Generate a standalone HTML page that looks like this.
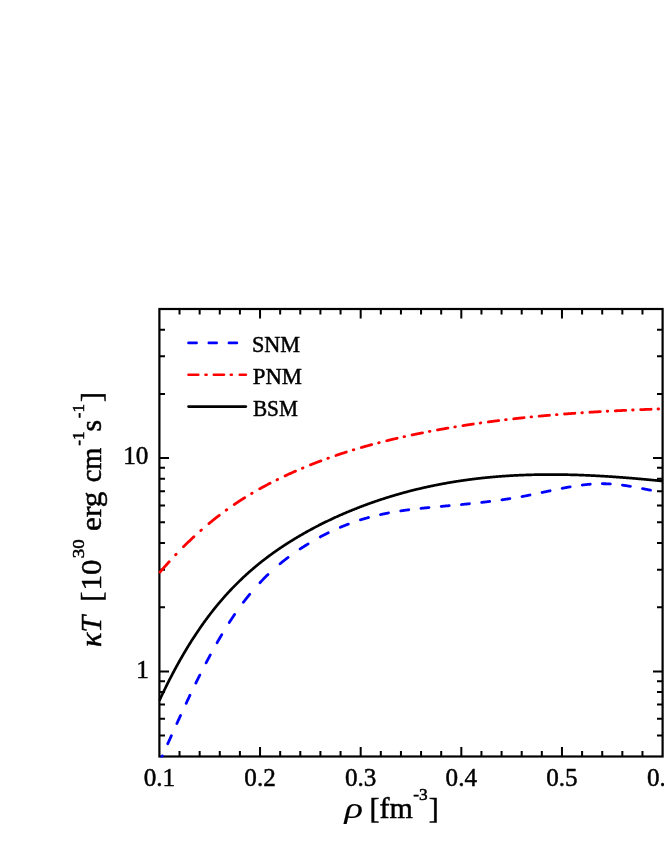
<!DOCTYPE html>
<html><head><meta charset="utf-8"><title>chart</title>
<style>html,body{margin:0;padding:0;background:#fff}svg{display:block;will-change:transform}text{font-family:"Liberation Serif",serif;fill:#000;stroke:#000;stroke-width:0.5px}</style></head>
<body>
<svg width="664" height="860" viewBox="0 0 664 860">
<rect width="664" height="860" fill="#fff"/>
<defs><clipPath id="c"><rect x="158.3" y="309.0" width="505.4" height="448.6"/></clipPath></defs>
<path d="M179.53 756.50v-5.60M179.53 309.00v5.60M199.66 756.50v-5.60M199.66 309.00v5.60M219.78 756.50v-5.60M219.78 309.00v5.60M239.91 756.50v-5.60M239.91 309.00v5.60M260.04 756.50v-9.60M260.04 309.00v9.60M280.17 756.50v-5.60M280.17 309.00v5.60M300.30 756.50v-5.60M300.30 309.00v5.60M320.42 756.50v-5.60M320.42 309.00v5.60M340.55 756.50v-5.60M340.55 309.00v5.60M360.68 756.50v-9.60M360.68 309.00v9.60M380.81 756.50v-5.60M380.81 309.00v5.60M400.94 756.50v-5.60M400.94 309.00v5.60M421.06 756.50v-5.60M421.06 309.00v5.60M441.19 756.50v-5.60M441.19 309.00v5.60M461.32 756.50v-9.60M461.32 309.00v9.60M481.45 756.50v-5.60M481.45 309.00v5.60M501.58 756.50v-5.60M501.58 309.00v5.60M521.70 756.50v-5.60M521.70 309.00v5.60M541.83 756.50v-5.60M541.83 309.00v5.60M561.96 756.50v-9.60M561.96 309.00v9.60M582.09 756.50v-5.60M582.09 309.00v5.60M602.22 756.50v-5.60M602.22 309.00v5.60M622.34 756.50v-5.60M622.34 309.00v5.60M642.47 756.50v-5.60M642.47 309.00v5.60M159.40 735.61h5.60M662.60 735.61h-5.60M159.40 718.72h5.60M662.60 718.72h-5.60M159.40 704.44h5.60M662.60 704.44h-5.60M159.40 692.07h5.60M662.60 692.07h-5.60M159.40 681.16h5.60M662.60 681.16h-5.60M159.40 671.40h9.60M662.60 671.40h-9.60M159.40 607.19h5.60M662.60 607.19h-5.60M159.40 569.63h5.60M662.60 569.63h-5.60M159.40 542.98h5.60M662.60 542.98h-5.60M159.40 522.31h5.60M662.60 522.31h-5.60M159.40 505.42h5.60M662.60 505.42h-5.60M159.40 491.14h5.60M662.60 491.14h-5.60M159.40 478.77h5.60M662.60 478.77h-5.60M159.40 467.86h5.60M662.60 467.86h-5.60M159.40 458.10h9.60M662.60 458.10h-9.60M159.40 393.89h5.60M662.60 393.89h-5.60M159.40 356.33h5.60M662.60 356.33h-5.60M159.40 329.68h5.60M662.60 329.68h-5.60" stroke="#000" stroke-width="2" fill="none"/>
<rect x="159.40" y="309.00" width="503.20" height="447.50" fill="none" stroke="#000" stroke-width="2.2"/>
<g clip-path="url(#c)" fill="none" stroke-linejoin="round" stroke-linecap="round">
<path d="M159.40 763.90 L159.40 762.37 L159.90 761.26 L160.40 760.15 L160.90 759.03 L161.40 757.92 L161.90 756.81 L162.31 755.90 M167.78 743.70 L167.90 743.44 L168.40 742.33 L168.90 741.21 L169.40 740.10 L169.90 738.99 L170.40 737.87 L170.90 736.76 L171.38 735.70 M176.89 723.50 L176.90 723.47 L177.40 722.37 L177.90 721.27 L178.40 720.18 L178.90 719.08 L179.40 717.98 L179.90 716.89 L180.40 715.80 L180.54 715.50 M186.18 703.30 L186.40 702.83 L186.90 701.77 L187.40 700.70 L187.90 699.64 L188.40 698.58 L188.90 697.52 L189.40 696.47 L189.90 695.42 L189.95 695.30 M195.85 683.10 L195.90 683.00 L196.40 681.98 L196.90 680.97 L197.40 679.95 L197.90 678.95 L198.40 677.94 L198.90 676.94 L199.40 675.94 L199.82 675.10 M206.07 662.90 L206.40 662.27 L206.90 661.32 L207.40 660.37 L207.90 659.43 L208.40 658.49 L208.90 657.55 L209.40 656.61 L209.90 655.68 L210.32 654.90 M217.08 642.70 L217.40 642.14 L217.90 641.27 L218.40 640.40 L218.90 639.54 L219.40 638.68 L219.90 637.82 L220.40 636.96 L220.90 636.12 L221.40 635.27 L221.74 634.70 M229.28 622.50 L229.40 622.31 L229.90 621.53 L230.40 620.76 L230.90 620.00 L231.40 619.24 L231.90 618.48 L232.40 617.73 L232.90 616.98 L233.40 616.24 L233.90 615.50 L234.40 614.77 L234.58 614.50 M243.39 602.30 L243.40 602.29 L243.90 601.64 L244.40 600.99 L244.90 600.35 L245.40 599.70 L245.90 599.07 L246.40 598.43 L246.90 597.80 L247.40 597.18 L247.90 596.56 L248.40 595.94 L248.90 595.33 L249.40 594.72 L249.74 594.30 M259.97 582.68 L260.40 582.22 L260.90 581.69 L261.40 581.16 L261.90 580.64 L262.40 580.12 L262.90 579.61 L263.40 579.10 L263.90 578.59 L264.40 578.08 L264.90 577.58 L265.40 577.08 L265.90 576.59 L266.40 576.10 L266.90 575.61 L267.40 575.12 L267.90 574.64 L267.97 574.57 M280.06 563.76 L280.40 563.48 L280.90 563.07 L281.40 562.66 L281.90 562.26 L282.40 561.85 L282.90 561.45 L283.40 561.05 L283.90 560.66 L284.40 560.26 L284.90 559.87 L285.40 559.48 L285.90 559.09 L286.40 558.71 L286.90 558.32 L287.40 557.94 L287.90 557.57 L288.06 557.44 M300.15 548.93 L300.40 548.77 L300.90 548.44 L301.40 548.11 L301.90 547.79 L302.40 547.46 L302.90 547.14 L303.40 546.82 L303.90 546.50 L304.40 546.19 L304.90 545.87 L305.40 545.56 L305.90 545.25 L306.40 544.94 L306.90 544.63 L307.40 544.32 L307.90 544.01 L308.15 543.86 M320.25 536.93 L320.40 536.85 L320.90 536.58 L321.40 536.31 L321.90 536.05 L322.40 535.79 L322.90 535.52 L323.40 535.26 L323.90 535.01 L324.40 534.75 L324.90 534.49 L325.40 534.24 L325.90 533.99 L326.40 533.73 L326.90 533.48 L327.40 533.24 L327.90 532.99 L328.25 532.82 M340.34 527.30 L340.40 527.27 L340.90 527.06 L341.40 526.85 L341.90 526.65 L342.40 526.44 L342.90 526.24 L343.40 526.03 L343.90 525.83 L344.40 525.63 L344.90 525.43 L345.40 525.23 L345.90 525.03 L346.40 524.84 L346.90 524.65 L347.40 524.45 L347.90 524.26 L348.34 524.09 M360.43 519.90 L360.90 519.76 L361.40 519.60 L361.90 519.45 L362.40 519.29 L362.90 519.14 L363.40 518.99 L363.90 518.84 L364.40 518.70 L364.90 518.55 L365.40 518.40 L365.90 518.26 L366.40 518.12 L366.90 517.98 L367.40 517.84 L367.90 517.70 L368.40 517.56 L368.43 517.55 M380.53 514.58 L380.90 514.50 L381.40 514.39 L381.90 514.28 L382.40 514.17 L382.90 514.07 L383.40 513.96 L383.90 513.86 L384.40 513.76 L384.90 513.66 L385.40 513.56 L385.90 513.46 L386.40 513.36 L386.90 513.26 L387.40 513.16 L387.90 513.07 L388.40 512.97 L388.53 512.95 M400.75 510.89 L400.90 510.87 L401.40 510.80 L401.90 510.72 L402.40 510.65 L402.90 510.58 L403.40 510.51 L403.90 510.44 L404.40 510.37 L404.90 510.30 L405.40 510.23 L405.90 510.16 L406.40 510.09 L406.90 510.02 L407.40 509.96 L407.90 509.89 L408.40 509.83 L408.75 509.78 M420.98 508.35 L421.40 508.30 L421.90 508.25 L422.40 508.20 L422.90 508.15 L423.40 508.09 L423.90 508.04 L424.40 507.99 L424.90 507.94 L425.40 507.89 L425.90 507.84 L426.40 507.79 L426.90 507.74 L427.40 507.69 L427.90 507.64 L428.40 507.59 L428.90 507.54 L428.98 507.54 M441.21 506.40 L441.40 506.38 L441.90 506.34 L442.40 506.29 L442.90 506.24 L443.40 506.20 L443.90 506.15 L444.40 506.11 L444.90 506.06 L445.40 506.02 L445.90 505.97 L446.40 505.93 L446.90 505.88 L447.40 505.84 L447.90 505.79 L448.40 505.75 L448.90 505.70 L449.21 505.67 M461.43 504.52 L461.90 504.48 L462.40 504.43 L462.90 504.38 L463.40 504.33 L463.90 504.28 L464.40 504.23 L464.90 504.18 L465.40 504.13 L465.90 504.09 L466.40 504.04 L466.90 503.99 L467.40 503.93 L467.90 503.88 L468.40 503.83 L468.90 503.78 L469.40 503.73 L469.43 503.73 M481.66 502.40 L481.90 502.38 L482.40 502.32 L482.90 502.26 L483.40 502.20 L483.90 502.15 L484.40 502.09 L484.90 502.03 L485.40 501.97 L485.90 501.91 L486.40 501.85 L486.90 501.79 L487.40 501.73 L487.90 501.67 L488.40 501.61 L488.90 501.54 L489.40 501.48 L489.66 501.45 M501.88 499.81 L501.90 499.81 L502.40 499.74 L502.90 499.67 L503.40 499.59 L503.90 499.52 L504.40 499.45 L504.90 499.37 L505.40 499.30 L505.90 499.22 L506.40 499.15 L506.90 499.07 L507.40 499.00 L507.90 498.92 L508.40 498.84 L508.90 498.76 L509.40 498.68 L509.88 498.61 M521.97 496.55 L522.40 496.47 L522.90 496.38 L523.40 496.28 L523.90 496.19 L524.40 496.10 L524.90 496.00 L525.40 495.91 L525.90 495.81 L526.40 495.71 L526.90 495.62 L527.40 495.52 L527.90 495.42 L528.40 495.32 L528.90 495.22 L529.40 495.12 L529.90 495.02 L529.97 495.01 M542.07 492.48 L542.40 492.41 L542.90 492.30 L543.40 492.20 L543.90 492.09 L544.40 491.98 L544.90 491.87 L545.40 491.77 L545.90 491.66 L546.40 491.55 L546.90 491.45 L547.40 491.34 L547.90 491.23 L548.40 491.13 L548.90 491.02 L549.40 490.91 L549.90 490.81 L550.07 490.77 M562.16 488.30 L562.40 488.25 L562.90 488.16 L563.40 488.06 L563.90 487.96 L564.40 487.87 L564.90 487.78 L565.40 487.68 L565.90 487.59 L566.40 487.50 L566.90 487.41 L567.40 487.32 L567.90 487.23 L568.40 487.14 L568.90 487.05 L569.40 486.96 L569.90 486.88 L570.16 486.83 M582.25 485.03 L582.40 485.02 L582.90 484.96 L583.40 484.90 L583.90 484.84 L584.40 484.78 L584.90 484.73 L585.40 484.67 L585.90 484.62 L586.40 484.57 L586.90 484.52 L587.40 484.47 L587.90 484.42 L588.40 484.38 L588.90 484.33 L589.40 484.29 L589.90 484.25 L590.25 484.22 M602.35 483.72 L602.40 483.72 L602.90 483.72 L603.40 483.73 L603.90 483.73 L604.40 483.74 L604.90 483.75 L605.40 483.76 L605.90 483.77 L606.40 483.79 L606.90 483.80 L607.40 483.82 L607.90 483.84 L608.40 483.87 L608.90 483.89 L609.40 483.92 L609.90 483.94 L610.35 483.97 M622.44 485.17 L622.90 485.23 L623.40 485.30 L623.90 485.37 L624.40 485.44 L624.90 485.51 L625.40 485.58 L625.90 485.65 L626.40 485.73 L626.90 485.81 L627.40 485.88 L627.90 485.96 L628.40 486.04 L628.90 486.12 L629.40 486.20 L629.90 486.28 L630.40 486.37 L630.44 486.37 M642.53 488.60 L642.90 488.67 L643.40 488.77 L643.90 488.87 L644.40 488.97 L644.90 489.07 L645.40 489.17 L645.90 489.27 L646.40 489.37 L646.90 489.47 L647.40 489.58 L647.90 489.68 L648.40 489.78 L648.90 489.88 L649.40 489.98 L649.90 490.08 L650.40 490.19 L650.53 490.21" stroke="#0000ff" stroke-width="2.8"/>
<path d="M159.96 572.14 L160.00 572.09 L160.50 571.51 L161.00 570.93 L161.50 570.36 L162.00 569.78 L162.50 569.21 L163.00 568.64 L163.50 568.07 L164.00 567.50 L164.50 566.93 L165.00 566.37 L165.50 565.81 L166.00 565.24 L166.50 564.69 L167.00 564.13 L167.50 563.57 L168.00 563.02 L168.50 562.47 L169.00 561.92 L169.16 561.74 M175.59 554.84 L176.00 554.41 L176.16 554.24 M183.50 546.75 L184.00 546.25 L184.50 545.75 L185.00 545.26 L185.50 544.77 L186.00 544.28 L186.50 543.79 L187.00 543.30 L187.50 542.82 L188.00 542.33 L188.50 541.85 L189.00 541.37 L189.50 540.89 L190.00 540.42 L190.50 539.94 L191.00 539.47 L191.50 539.00 L192.00 538.53 L192.50 538.06 L193.00 537.59 L193.50 537.13 L193.90 536.75 M200.80 530.52 L201.00 530.35 L201.40 529.99 M208.90 523.60 L209.00 523.51 L209.50 523.10 L210.00 522.69 L210.50 522.28 L211.00 521.87 L211.50 521.46 L212.00 521.05 L212.50 520.65 L213.00 520.25 L213.50 519.85 L214.00 519.45 L214.50 519.05 L215.00 518.65 L215.50 518.26 L216.00 517.86 L216.50 517.47 L217.00 517.08 L217.50 516.69 L218.00 516.30 L218.50 515.92 L219.00 515.53 L219.30 515.30 M226.20 510.16 L226.50 509.94 L226.80 509.73 M234.30 504.48 L234.50 504.34 L235.00 504.00 L235.50 503.67 L236.00 503.33 L236.50 503.00 L237.00 502.66 L237.50 502.33 L238.00 502.00 L238.50 501.67 L239.00 501.34 L239.50 501.02 L240.00 500.69 L240.50 500.37 L241.00 500.05 L241.50 499.72 L242.00 499.40 L242.50 499.09 L243.00 498.77 L243.50 498.45 L244.00 498.14 L244.50 497.82 L244.70 497.70 M251.60 493.50 L252.00 493.26 L252.20 493.14 M259.70 488.84 L260.00 488.67 L260.50 488.40 L261.00 488.12 L261.50 487.84 L262.00 487.57 L262.50 487.30 L263.00 487.02 L263.50 486.75 L264.00 486.48 L264.50 486.21 L265.00 485.94 L265.50 485.67 L266.00 485.41 L266.50 485.14 L267.00 484.88 L267.50 484.61 L268.00 484.35 L268.50 484.09 L269.00 483.83 L269.50 483.57 L270.00 483.31 L270.10 483.26 M277.00 479.77 L277.50 479.52 L277.60 479.48 M285.10 475.87 L285.50 475.69 L286.00 475.45 L286.50 475.22 L287.00 474.99 L287.50 474.76 L288.00 474.53 L288.50 474.30 L289.00 474.07 L289.50 473.84 L290.00 473.61 L290.50 473.38 L291.00 473.16 L291.50 472.93 L292.00 472.71 L292.50 472.48 L293.00 472.26 L293.50 472.04 L294.00 471.81 L294.50 471.59 L295.00 471.37 L295.50 471.15 L295.50 471.15 M302.40 468.18 L302.50 468.14 L303.00 467.93 L303.00 467.93 M310.50 464.86 L311.00 464.66 L311.50 464.46 L312.00 464.26 L312.50 464.06 L313.00 463.87 L313.50 463.67 L314.00 463.47 L314.50 463.28 L315.00 463.08 L315.50 462.89 L316.00 462.70 L316.50 462.50 L317.00 462.31 L317.50 462.12 L318.00 461.93 L318.50 461.74 L319.00 461.55 L319.50 461.36 L320.00 461.17 L320.50 460.98 L320.90 460.83 M327.80 458.31 L328.00 458.24 L328.40 458.09 M335.90 455.48 L336.00 455.45 L336.50 455.28 L337.00 455.11 L337.50 454.94 L338.00 454.77 L338.50 454.60 L339.00 454.44 L339.50 454.27 L340.00 454.11 L340.50 453.94 L341.00 453.78 L341.50 453.61 L342.00 453.45 L342.50 453.28 L343.00 453.12 L343.50 452.96 L344.00 452.80 L344.50 452.64 L345.00 452.48 L345.50 452.32 L346.00 452.16 L346.30 452.06 M353.20 449.92 L353.50 449.83 L353.80 449.74 M361.30 447.52 L361.50 447.46 L362.00 447.32 L362.50 447.17 L363.00 447.03 L363.50 446.89 L364.00 446.75 L364.50 446.60 L365.00 446.46 L365.50 446.32 L366.00 446.18 L366.50 446.04 L367.00 445.90 L367.50 445.76 L368.00 445.63 L368.50 445.49 L369.00 445.35 L369.50 445.21 L370.00 445.08 L370.50 444.94 L371.00 444.80 L371.50 444.67 L371.70 444.62 M378.60 442.79 L379.00 442.69 L379.20 442.64 M386.70 440.75 L387.00 440.68 L387.50 440.55 L388.00 440.43 L388.50 440.31 L389.00 440.19 L389.50 440.07 L390.00 439.95 L390.50 439.83 L391.00 439.71 L391.50 439.59 L392.00 439.47 L392.50 439.35 L393.00 439.23 L393.50 439.11 L394.00 439.00 L394.50 438.88 L395.00 438.76 L395.50 438.64 L396.00 438.53 L396.50 438.41 L397.00 438.30 L397.10 438.27 M404.00 436.71 L404.50 436.60 L404.60 436.58 M412.10 434.96 L412.50 434.87 L413.00 434.77 L413.50 434.66 L414.00 434.56 L414.50 434.45 L415.00 434.35 L415.50 434.24 L416.00 434.14 L416.50 434.03 L417.00 433.93 L417.50 433.83 L418.00 433.73 L418.50 433.62 L419.00 433.52 L419.50 433.42 L420.00 433.32 L420.50 433.22 L421.00 433.12 L421.50 433.01 L422.00 432.91 L422.50 432.81 L422.50 432.81 M429.40 431.46 L429.50 431.44 L430.00 431.35 L430.00 431.35 M437.50 429.94 L438.00 429.85 L438.50 429.76 L439.00 429.66 L439.50 429.57 L440.00 429.48 L440.50 429.39 L441.00 429.30 L441.50 429.21 L442.00 429.12 L442.50 429.03 L443.00 428.95 L443.50 428.86 L444.00 428.77 L444.50 428.68 L445.00 428.59 L445.50 428.50 L446.00 428.42 L446.50 428.33 L447.00 428.24 L447.50 428.16 L447.90 428.09 M454.80 426.92 L455.00 426.89 L455.40 426.82 M462.90 425.61 L463.00 425.60 L463.50 425.52 L464.00 425.44 L464.50 425.36 L465.00 425.28 L465.50 425.21 L466.00 425.13 L466.50 425.05 L467.00 424.97 L467.50 424.90 L468.00 424.82 L468.50 424.75 L469.00 424.67 L469.50 424.59 L470.00 424.52 L470.50 424.44 L471.00 424.37 L471.50 424.29 L472.00 424.22 L472.50 424.14 L473.00 424.07 L473.30 424.03 M480.20 423.03 L480.50 422.99 L480.80 422.95 M488.30 421.92 L488.50 421.89 L489.00 421.82 L489.50 421.76 L490.00 421.69 L490.50 421.63 L491.00 421.56 L491.50 421.49 L492.00 421.43 L492.50 421.36 L493.00 421.30 L493.50 421.23 L494.00 421.17 L494.50 421.10 L495.00 421.04 L495.50 420.98 L496.00 420.91 L496.50 420.85 L497.00 420.79 L497.50 420.72 L498.00 420.66 L498.50 420.60 L498.70 420.57 M505.60 419.73 L506.00 419.68 L506.20 419.66 M513.70 418.79 L514.00 418.76 L514.50 418.70 L515.00 418.65 L515.50 418.59 L516.00 418.54 L516.50 418.48 L517.00 418.43 L517.50 418.37 L518.00 418.32 L518.50 418.26 L519.00 418.21 L519.50 418.15 L520.00 418.10 L520.50 418.05 L521.00 417.99 L521.50 417.94 L522.00 417.89 L522.50 417.83 L523.00 417.78 L523.50 417.73 L524.00 417.68 L524.10 417.67 M531.00 416.96 L531.50 416.91 L531.60 416.90 M539.10 416.18 L539.50 416.15 L540.00 416.10 L540.50 416.05 L541.00 416.01 L541.50 415.96 L542.00 415.91 L542.50 415.87 L543.00 415.82 L543.50 415.78 L544.00 415.73 L544.50 415.69 L545.00 415.64 L545.50 415.60 L546.00 415.55 L546.50 415.51 L547.00 415.47 L547.50 415.42 L548.00 415.38 L548.50 415.33 L549.00 415.29 L549.50 415.25 M556.40 414.67 L556.50 414.66 L557.00 414.62 M564.50 414.02 L564.50 414.02 L565.00 413.99 L565.50 413.95 L566.00 413.91 L566.50 413.87 L567.00 413.83 L567.50 413.80 L568.00 413.76 L568.50 413.72 L569.00 413.68 L569.50 413.65 L570.00 413.61 L570.50 413.57 L571.00 413.54 L571.50 413.50 L572.00 413.46 L572.50 413.43 L573.00 413.39 L573.50 413.36 L574.00 413.32 L574.50 413.28 L574.90 413.26 M581.80 412.78 L582.00 412.77 L582.40 412.74 M589.90 412.26 L590.00 412.25 L590.50 412.22 L591.00 412.19 L591.50 412.16 L592.00 412.13 L592.50 412.10 L593.00 412.07 L593.50 412.04 L594.00 412.00 L594.50 411.97 L595.00 411.94 L595.50 411.91 L596.00 411.88 L596.50 411.86 L597.00 411.83 L597.50 411.80 L598.00 411.77 L598.50 411.74 L599.00 411.71 L599.50 411.68 L600.00 411.65 L600.30 411.63 M607.20 411.25 L607.50 411.23 L607.80 411.22 M615.30 410.82 L615.50 410.81 L616.00 410.79 L616.50 410.76 L617.00 410.74 L617.50 410.71 L618.00 410.69 L618.50 410.66 L619.00 410.64 L619.50 410.61 L620.00 410.59 L620.50 410.57 L621.00 410.54 L621.50 410.52 L622.00 410.49 L622.50 410.47 L623.00 410.45 L623.50 410.42 L624.00 410.40 L624.50 410.37 L625.00 410.35 L625.50 410.33 L625.70 410.32 M632.60 410.01 L633.00 409.99 L633.20 409.98 M640.70 409.66 L641.00 409.65 L641.50 409.63 L642.00 409.61 L642.50 409.59 L643.00 409.57 L643.50 409.55 L644.00 409.53 L644.50 409.51 L645.00 409.49 L645.50 409.47 L646.00 409.45 L646.50 409.43 L647.00 409.41 L647.50 409.39 L648.00 409.37 L648.50 409.35 L649.00 409.33 L649.50 409.31 L650.00 409.29 L650.50 409.28 L651.00 409.26 L651.10 409.25 M658.00 409.00 L658.00 409.00 L658.50 408.98 L658.60 408.98" stroke="#ff0000" stroke-width="2.8"/>
<path d="M159.40 700.58 L159.90 699.50 L160.40 698.42 L160.90 697.36 L161.40 696.29 L161.90 695.24 L162.40 694.18 L162.90 693.13 L163.40 692.09 L163.90 691.05 L164.40 690.02 L164.90 688.99 L165.40 687.97 L165.90 686.95 L166.40 685.94 L166.90 684.93 L167.40 683.92 L167.90 682.92 L168.40 681.93 L168.90 680.94 L169.40 679.96 L169.90 678.98 L170.40 678.00 L170.90 677.03 L171.40 676.06 L171.90 675.10 L172.40 674.15 L172.90 673.20 L173.40 672.25 L173.90 671.31 L174.40 670.37 L174.90 669.43 L175.40 668.50 L175.90 667.58 L176.40 666.66 L176.90 665.75 L177.40 664.83 L177.90 663.93 L178.40 663.03 L178.90 662.13 L179.40 661.24 L179.90 660.35 L180.40 659.46 L180.90 658.58 L181.40 657.71 L181.90 656.84 L182.40 655.97 L182.90 655.11 L183.40 654.25 L183.90 653.40 L184.40 652.55 L184.90 651.70 L185.40 650.86 L185.90 650.02 L186.40 649.19 L186.90 648.36 L187.40 647.54 L187.90 646.71 L188.40 645.90 L188.90 645.09 L189.40 644.28 L189.90 643.47 L190.40 642.67 L190.90 641.88 L191.40 641.09 L191.90 640.30 L192.40 639.51 L192.90 638.73 L193.40 637.96 L193.90 637.19 L194.40 636.42 L194.90 635.65 L195.40 634.89 L195.90 634.14 L196.40 633.38 L196.90 632.63 L197.40 631.89 L197.90 631.15 L198.40 630.41 L198.90 629.68 L199.40 628.95 L199.90 628.22 L200.40 627.50 L200.90 626.78 L201.40 626.06 L201.90 625.35 L202.40 624.64 L202.90 623.94 L203.40 623.24 L203.90 622.54 L204.40 621.85 L204.90 621.16 L205.40 620.47 L205.90 619.79 L206.40 619.11 L206.90 618.43 L207.40 617.76 L207.90 617.09 L208.40 616.42 L208.90 615.76 L209.40 615.10 L209.90 614.45 L210.40 613.79 L210.90 613.14 L211.40 612.50 L211.90 611.86 L212.40 611.22 L212.90 610.58 L213.40 609.95 L213.90 609.32 L214.40 608.69 L214.90 608.07 L215.40 607.45 L215.90 606.83 L216.40 606.22 L216.90 605.61 L217.40 605.00 L217.90 604.40 L218.40 603.80 L218.90 603.20 L219.40 602.61 L219.90 602.02 L220.40 601.43 L220.90 600.84 L221.40 600.26 L221.90 599.68 L222.40 599.10 L222.90 598.53 L223.40 597.96 L223.90 597.39 L224.40 596.82 L224.90 596.26 L225.40 595.70 L225.90 595.15 L226.40 594.59 L226.90 594.04 L227.40 593.49 L227.90 592.95 L228.40 592.40 L228.90 591.86 L229.40 591.33 L229.90 590.79 L230.40 590.26 L230.90 589.73 L231.40 589.20 L231.90 588.68 L232.40 588.16 L232.90 587.64 L233.40 587.12 L233.90 586.61 L234.40 586.10 L234.90 585.59 L235.40 585.08 L235.90 584.58 L236.40 584.08 L236.90 583.58 L237.40 583.08 L237.90 582.59 L238.40 582.10 L238.90 581.61 L239.40 581.12 L239.90 580.64 L240.40 580.16 L240.90 579.68 L241.40 579.20 L241.90 578.72 L242.40 578.25 L242.90 577.78 L243.40 577.31 L243.90 576.85 L244.40 576.38 L244.90 575.92 L245.40 575.46 L245.90 575.00 L246.40 574.55 L246.90 574.09 L247.40 573.64 L247.90 573.19 L248.40 572.75 L248.90 572.30 L249.40 571.86 L249.90 571.42 L250.40 570.98 L250.90 570.54 L251.40 570.11 L251.90 569.67 L252.40 569.24 L252.90 568.82 L253.40 568.39 L253.90 567.96 L254.40 567.54 L254.90 567.12 L255.40 566.70 L255.90 566.28 L256.40 565.87 L256.90 565.46 L257.40 565.04 L257.90 564.63 L258.40 564.23 L258.90 563.82 L259.40 563.42 L259.90 563.01 L260.40 562.61 L260.90 562.22 L261.40 561.82 L261.90 561.42 L262.40 561.03 L262.90 560.64 L263.40 560.25 L263.90 559.86 L264.40 559.47 L264.90 559.09 L265.40 558.71 L265.90 558.33 L266.40 557.95 L266.90 557.57 L267.40 557.19 L267.90 556.82 L268.40 556.44 L268.90 556.07 L269.40 555.70 L269.90 555.34 L270.40 554.97 L270.90 554.60 L271.40 554.24 L271.90 553.88 L272.40 553.52 L272.90 553.16 L273.40 552.80 L273.90 552.45 L274.40 552.09 L274.90 551.74 L275.40 551.39 L275.90 551.04 L276.40 550.69 L276.90 550.34 L277.40 550.00 L277.90 549.65 L278.40 549.31 L278.90 548.97 L279.40 548.63 L279.90 548.29 L280.40 547.95 L280.90 547.62 L281.40 547.28 L281.90 546.95 L282.40 546.62 L282.90 546.28 L283.40 545.96 L283.90 545.63 L284.40 545.30 L284.90 544.97 L285.40 544.65 L285.90 544.33 L286.40 544.01 L286.90 543.68 L287.40 543.36 L287.90 543.05 L288.40 542.73 L288.90 542.41 L289.40 542.10 L289.90 541.78 L290.40 541.47 L290.90 541.16 L291.40 540.85 L291.90 540.54 L292.40 540.23 L292.90 539.93 L293.40 539.62 L293.90 539.31 L294.40 539.01 L294.90 538.71 L295.40 538.40 L295.90 538.10 L296.40 537.80 L296.90 537.51 L297.40 537.21 L297.90 536.91 L298.40 536.61 L298.90 536.32 L299.40 536.03 L299.90 535.73 L300.40 535.44 L300.90 535.15 L301.40 534.86 L301.90 534.57 L302.40 534.28 L302.90 534.00 L303.40 533.71 L303.90 533.43 L304.40 533.14 L304.90 532.86 L305.40 532.58 L305.90 532.30 L306.40 532.02 L306.90 531.74 L307.40 531.46 L307.90 531.18 L308.40 530.91 L308.90 530.63 L309.40 530.36 L309.90 530.09 L310.40 529.81 L310.90 529.54 L311.40 529.27 L311.90 529.00 L312.40 528.73 L312.90 528.47 L313.40 528.20 L313.90 527.93 L314.40 527.67 L314.90 527.41 L315.40 527.14 L315.90 526.88 L316.40 526.62 L316.90 526.36 L317.40 526.10 L317.90 525.84 L318.40 525.58 L318.90 525.33 L319.40 525.07 L319.90 524.82 L320.40 524.56 L320.90 524.31 L321.40 524.06 L321.90 523.81 L322.40 523.56 L322.90 523.31 L323.40 523.06 L323.90 522.81 L324.40 522.56 L324.90 522.32 L325.40 522.07 L325.90 521.83 L326.40 521.59 L326.90 521.34 L327.40 521.10 L327.90 520.86 L328.40 520.62 L328.90 520.38 L329.40 520.14 L329.90 519.91 L330.40 519.67 L330.90 519.43 L331.40 519.20 L331.90 518.96 L332.40 518.73 L332.90 518.50 L333.40 518.27 L333.90 518.03 L334.40 517.80 L334.90 517.57 L335.40 517.35 L335.90 517.12 L336.40 516.89 L336.90 516.67 L337.40 516.44 L337.90 516.22 L338.40 515.99 L338.90 515.77 L339.40 515.55 L339.90 515.32 L340.40 515.10 L340.90 514.88 L341.40 514.66 L341.90 514.45 L342.40 514.23 L342.90 514.01 L343.40 513.80 L343.90 513.58 L344.40 513.37 L344.90 513.15 L345.40 512.94 L345.90 512.73 L346.40 512.51 L346.90 512.30 L347.40 512.09 L347.90 511.88 L348.40 511.67 L348.90 511.47 L349.40 511.26 L349.90 511.05 L350.40 510.85 L350.90 510.64 L351.40 510.44 L351.90 510.23 L352.40 510.03 L352.90 509.83 L353.40 509.63 L353.90 509.42 L354.40 509.22 L354.90 509.02 L355.40 508.83 L355.90 508.63 L356.40 508.43 L356.90 508.23 L357.40 508.04 L357.90 507.84 L358.40 507.65 L358.90 507.45 L359.40 507.26 L359.90 507.07 L360.40 506.87 L360.90 506.68 L361.40 506.49 L361.90 506.30 L362.40 506.11 L362.90 505.92 L363.40 505.73 L363.90 505.55 L364.40 505.36 L364.90 505.17 L365.40 504.99 L365.90 504.80 L366.40 504.62 L366.90 504.44 L367.40 504.25 L367.90 504.07 L368.40 503.89 L368.90 503.71 L369.40 503.53 L369.90 503.35 L370.40 503.17 L370.90 502.99 L371.40 502.82 L371.90 502.64 L372.40 502.46 L372.90 502.29 L373.40 502.11 L373.90 501.94 L374.40 501.76 L374.90 501.59 L375.40 501.42 L375.90 501.25 L376.40 501.08 L376.90 500.91 L377.40 500.74 L377.90 500.57 L378.40 500.40 L378.90 500.23 L379.40 500.06 L379.90 499.90 L380.40 499.73 L380.90 499.57 L381.40 499.40 L381.90 499.24 L382.40 499.08 L382.90 498.91 L383.40 498.75 L383.90 498.59 L384.40 498.43 L384.90 498.27 L385.40 498.11 L385.90 497.95 L386.40 497.79 L386.90 497.63 L387.40 497.48 L387.90 497.32 L388.40 497.17 L388.90 497.01 L389.40 496.86 L389.90 496.70 L390.40 496.55 L390.90 496.40 L391.40 496.25 L391.90 496.09 L392.40 495.94 L392.90 495.79 L393.40 495.64 L393.90 495.49 L394.40 495.35 L394.90 495.20 L395.40 495.05 L395.90 494.91 L396.40 494.76 L396.90 494.61 L397.40 494.47 L397.90 494.33 L398.40 494.18 L398.90 494.04 L399.40 493.90 L399.90 493.76 L400.40 493.62 L400.90 493.48 L401.40 493.34 L401.90 493.20 L402.40 493.06 L402.90 492.92 L403.40 492.78 L403.90 492.65 L404.40 492.51 L404.90 492.38 L405.40 492.24 L405.90 492.11 L406.40 491.97 L406.90 491.84 L407.40 491.71 L407.90 491.57 L408.40 491.44 L408.90 491.31 L409.40 491.18 L409.90 491.05 L410.40 490.92 L410.90 490.80 L411.40 490.67 L411.90 490.54 L412.40 490.41 L412.90 490.29 L413.40 490.16 L413.90 490.04 L414.40 489.91 L414.90 489.79 L415.40 489.67 L415.90 489.54 L416.40 489.42 L416.90 489.30 L417.40 489.18 L417.90 489.06 L418.40 488.94 L418.90 488.82 L419.40 488.70 L419.90 488.58 L420.40 488.47 L420.90 488.35 L421.40 488.23 L421.90 488.12 L422.40 488.00 L422.90 487.89 L423.40 487.77 L423.90 487.66 L424.40 487.55 L424.90 487.44 L425.40 487.32 L425.90 487.21 L426.40 487.10 L426.90 486.99 L427.40 486.88 L427.90 486.77 L428.40 486.66 L428.90 486.56 L429.40 486.45 L429.90 486.34 L430.40 486.24 L430.90 486.13 L431.40 486.03 L431.90 485.92 L432.40 485.82 L432.90 485.71 L433.40 485.61 L433.90 485.51 L434.40 485.41 L434.90 485.30 L435.40 485.20 L435.90 485.10 L436.40 485.00 L436.90 484.90 L437.40 484.81 L437.90 484.71 L438.40 484.61 L438.90 484.51 L439.40 484.42 L439.90 484.32 L440.40 484.23 L440.90 484.13 L441.40 484.04 L441.90 483.94 L442.40 483.85 L442.90 483.76 L443.40 483.66 L443.90 483.57 L444.40 483.48 L444.90 483.39 L445.40 483.30 L445.90 483.21 L446.40 483.12 L446.90 483.03 L447.40 482.94 L447.90 482.86 L448.40 482.77 L448.90 482.68 L449.40 482.60 L449.90 482.51 L450.40 482.43 L450.90 482.34 L451.40 482.26 L451.90 482.18 L452.40 482.09 L452.90 482.01 L453.40 481.93 L453.90 481.85 L454.40 481.77 L454.90 481.69 L455.40 481.61 L455.90 481.53 L456.40 481.45 L456.90 481.37 L457.40 481.29 L457.90 481.21 L458.40 481.14 L458.90 481.06 L459.40 480.98 L459.90 480.91 L460.40 480.83 L460.90 480.76 L461.40 480.69 L461.90 480.61 L462.40 480.54 L462.90 480.47 L463.40 480.40 L463.90 480.32 L464.40 480.25 L464.90 480.18 L465.40 480.11 L465.90 480.04 L466.40 479.97 L466.90 479.91 L467.40 479.84 L467.90 479.77 L468.40 479.70 L468.90 479.64 L469.40 479.57 L469.90 479.50 L470.40 479.44 L470.90 479.37 L471.40 479.31 L471.90 479.25 L472.40 479.18 L472.90 479.12 L473.40 479.06 L473.90 479.00 L474.40 478.93 L474.90 478.87 L475.40 478.81 L475.90 478.75 L476.40 478.69 L476.90 478.63 L477.40 478.58 L477.90 478.52 L478.40 478.46 L478.90 478.40 L479.40 478.35 L479.90 478.29 L480.40 478.23 L480.90 478.18 L481.40 478.12 L481.90 478.07 L482.40 478.02 L482.90 477.96 L483.40 477.91 L483.90 477.86 L484.40 477.80 L484.90 477.75 L485.40 477.70 L485.90 477.65 L486.40 477.60 L486.90 477.55 L487.40 477.50 L487.90 477.45 L488.40 477.40 L488.90 477.36 L489.40 477.31 L489.90 477.26 L490.40 477.21 L490.90 477.17 L491.40 477.12 L491.90 477.08 L492.40 477.03 L492.90 476.99 L493.40 476.94 L493.90 476.90 L494.40 476.86 L494.90 476.81 L495.40 476.77 L495.90 476.73 L496.40 476.69 L496.90 476.65 L497.40 476.60 L497.90 476.56 L498.40 476.52 L498.90 476.48 L499.40 476.45 L499.90 476.41 L500.40 476.37 L500.90 476.33 L501.40 476.29 L501.90 476.26 L502.40 476.22 L502.90 476.18 L503.40 476.15 L503.90 476.11 L504.40 476.08 L504.90 476.04 L505.40 476.01 L505.90 475.98 L506.40 475.94 L506.90 475.91 L507.40 475.88 L507.90 475.85 L508.40 475.82 L508.90 475.78 L509.40 475.75 L509.90 475.72 L510.40 475.69 L510.90 475.66 L511.40 475.63 L511.90 475.61 L512.40 475.58 L512.90 475.55 L513.40 475.52 L513.90 475.50 L514.40 475.47 L514.90 475.44 L515.40 475.42 L515.90 475.39 L516.40 475.37 L516.90 475.34 L517.40 475.32 L517.90 475.29 L518.40 475.27 L518.90 475.25 L519.40 475.22 L519.90 475.20 L520.40 475.18 L520.90 475.16 L521.40 475.14 L521.90 475.11 L522.40 475.09 L522.90 475.07 L523.40 475.05 L523.90 475.04 L524.40 475.02 L524.90 475.00 L525.40 474.98 L525.90 474.96 L526.40 474.94 L526.90 474.93 L527.40 474.91 L527.90 474.89 L528.40 474.88 L528.90 474.86 L529.40 474.85 L529.90 474.83 L530.40 474.82 L530.90 474.80 L531.40 474.79 L531.90 474.78 L532.40 474.76 L532.90 474.75 L533.40 474.74 L533.90 474.73 L534.40 474.72 L534.90 474.70 L535.40 474.69 L535.90 474.68 L536.40 474.67 L536.90 474.66 L537.40 474.65 L537.90 474.65 L538.40 474.64 L538.90 474.63 L539.40 474.62 L539.90 474.61 L540.40 474.61 L540.90 474.60 L541.40 474.59 L541.90 474.59 L542.40 474.58 L542.90 474.57 L543.40 474.57 L543.90 474.56 L544.40 474.56 L544.90 474.56 L545.40 474.55 L545.90 474.55 L546.40 474.55 L546.90 474.54 L547.40 474.54 L547.90 474.54 L548.40 474.54 L548.90 474.53 L549.40 474.53 L549.90 474.53 L550.40 474.53 L550.90 474.53 L551.40 474.53 L551.90 474.53 L552.40 474.53 L552.90 474.53 L553.40 474.54 L553.90 474.54 L554.40 474.54 L554.90 474.54 L555.40 474.55 L555.90 474.55 L556.40 474.55 L556.90 474.56 L557.40 474.56 L557.90 474.56 L558.40 474.57 L558.90 474.57 L559.40 474.58 L559.90 474.59 L560.40 474.59 L560.90 474.60 L561.40 474.60 L561.90 474.61 L562.40 474.62 L562.90 474.63 L563.40 474.63 L563.90 474.64 L564.40 474.65 L564.90 474.66 L565.40 474.67 L565.90 474.68 L566.40 474.69 L566.90 474.70 L567.40 474.71 L567.90 474.72 L568.40 474.73 L568.90 474.74 L569.40 474.75 L569.90 474.76 L570.40 474.78 L570.90 474.79 L571.40 474.80 L571.90 474.81 L572.40 474.83 L572.90 474.84 L573.40 474.85 L573.90 474.87 L574.40 474.88 L574.90 474.90 L575.40 474.91 L575.90 474.93 L576.40 474.94 L576.90 474.96 L577.40 474.97 L577.90 474.99 L578.40 475.01 L578.90 475.02 L579.40 475.04 L579.90 475.06 L580.40 475.08 L580.90 475.10 L581.40 475.11 L581.90 475.13 L582.40 475.15 L582.90 475.17 L583.40 475.19 L583.90 475.21 L584.40 475.23 L584.90 475.25 L585.40 475.27 L585.90 475.29 L586.40 475.31 L586.90 475.33 L587.40 475.35 L587.90 475.38 L588.40 475.40 L588.90 475.42 L589.40 475.44 L589.90 475.47 L590.40 475.49 L590.90 475.51 L591.40 475.54 L591.90 475.56 L592.40 475.59 L592.90 475.61 L593.40 475.63 L593.90 475.66 L594.40 475.68 L594.90 475.71 L595.40 475.74 L595.90 475.76 L596.40 475.79 L596.90 475.81 L597.40 475.84 L597.90 475.87 L598.40 475.89 L598.90 475.92 L599.40 475.95 L599.90 475.98 L600.40 476.01 L600.90 476.03 L601.40 476.06 L601.90 476.09 L602.40 476.12 L602.90 476.15 L603.40 476.18 L603.90 476.21 L604.40 476.24 L604.90 476.27 L605.40 476.30 L605.90 476.33 L606.40 476.36 L606.90 476.39 L607.40 476.42 L607.90 476.46 L608.40 476.49 L608.90 476.52 L609.40 476.55 L609.90 476.59 L610.40 476.62 L610.90 476.65 L611.40 476.68 L611.90 476.72 L612.40 476.75 L612.90 476.79 L613.40 476.82 L613.90 476.85 L614.40 476.89 L614.90 476.92 L615.40 476.96 L615.90 476.99 L616.40 477.03 L616.90 477.06 L617.40 477.10 L617.90 477.14 L618.40 477.17 L618.90 477.21 L619.40 477.24 L619.90 477.28 L620.40 477.32 L620.90 477.36 L621.40 477.39 L621.90 477.43 L622.40 477.47 L622.90 477.51 L623.40 477.55 L623.90 477.58 L624.40 477.62 L624.90 477.66 L625.40 477.70 L625.90 477.74 L626.40 477.78 L626.90 477.82 L627.40 477.86 L627.90 477.90 L628.40 477.94 L628.90 477.98 L629.40 478.02 L629.90 478.06 L630.40 478.10 L630.90 478.14 L631.40 478.18 L631.90 478.22 L632.40 478.27 L632.90 478.31 L633.40 478.35 L633.90 478.39 L634.40 478.43 L634.90 478.48 L635.40 478.52 L635.90 478.56 L636.40 478.61 L636.90 478.65 L637.40 478.69 L637.90 478.74 L638.40 478.78 L638.90 478.82 L639.40 478.87 L639.90 478.91 L640.40 478.96 L640.90 479.00 L641.40 479.05 L641.90 479.09 L642.40 479.14 L642.90 479.18 L643.40 479.23 L643.90 479.27 L644.40 479.32 L644.90 479.36 L645.40 479.41 L645.90 479.46 L646.40 479.50 L646.90 479.55 L647.40 479.60 L647.90 479.64 L648.40 479.69 L648.90 479.74 L649.40 479.79 L649.90 479.83 L650.40 479.88 L650.90 479.93 L651.40 479.98 L651.90 480.02 L652.40 480.07 L652.90 480.12 L653.40 480.17 L653.90 480.22 L654.40 480.27 L654.90 480.32 L655.40 480.36 L655.90 480.41 L656.40 480.46 L656.90 480.51 L657.40 480.56 L657.90 480.61 L658.40 480.66 L658.90 480.71 L659.40 480.76 L659.90 480.81 L660.40 480.86 L660.90 480.91 L661.40 480.96 L661.90 481.02 L662.40 481.07" stroke="#000" stroke-width="2.7" stroke-linecap="butt"/>
</g>
<text x="143.70" y="785.6" font-size="26" textLength="31.4" lengthAdjust="spacingAndGlyphs">0.1</text>
<text x="244.34" y="785.6" font-size="26" textLength="31.4" lengthAdjust="spacingAndGlyphs">0.2</text>
<text x="344.98" y="785.6" font-size="26" textLength="31.4" lengthAdjust="spacingAndGlyphs">0.3</text>
<text x="445.62" y="785.6" font-size="26" textLength="31.4" lengthAdjust="spacingAndGlyphs">0.4</text>
<text x="546.26" y="785.6" font-size="26" textLength="31.4" lengthAdjust="spacingAndGlyphs">0.5</text>
<text x="646.90" y="785.6" font-size="26" textLength="31.4" lengthAdjust="spacingAndGlyphs">0.6</text>
<text x="123.2" y="464.0" font-size="26" textLength="25.2" lengthAdjust="spacingAndGlyphs">10</text>
<text x="136.2" y="678.2" font-size="26" textLength="12.6" lengthAdjust="spacingAndGlyphs">1</text>
<g fill="none" stroke-linecap="round" stroke-width="2.6">
<path d="M188.50 342.90H196.60M208.80 342.90H216.70M228.90 342.90H236.90" stroke="#0000ff"/>
<path d="M188.50 374.80H198.30M205.50 374.80H206.60M213.80 374.80H224.00M230.80 374.80H231.80M239.70 374.80H245.90" stroke="#ff0000"/>
<path d="M188.50 406.60H245.90" stroke="#000"/>
</g>
<text x="251.9" y="351.7" font-size="24" textLength="48.2" lengthAdjust="spacingAndGlyphs">SNM</text>
<text x="252.8" y="383.9" font-size="24" textLength="49.2" lengthAdjust="spacingAndGlyphs">PNM</text>
<text x="252.9" y="416.0" font-size="24" textLength="45.0" lengthAdjust="spacingAndGlyphs">BSM</text>
<text y="817.8" font-size="30"><tspan x="344.5" font-style="italic" textLength="18.5" lengthAdjust="spacingAndGlyphs" stroke-width="0.1">ρ</tspan><tspan x="369.6">[fm</tspan><tspan x="413.2" y="800" font-size="17.3">-3</tspan><tspan x="428.8" y="817.8">]</tspan></text>
<g transform="translate(100.7 646) rotate(-90)"><text y="0" font-size="30"><tspan x="-1" font-style="italic">κT</tspan><tspan x="44.2">[</tspan><tspan x="55.6" textLength="31" lengthAdjust="spacingAndGlyphs">10</tspan><tspan x="87.8" y="-16.5" font-size="17.3" textLength="19" lengthAdjust="spacingAndGlyphs">30</tspan><tspan x="115.0" y="0" textLength="39.4" lengthAdjust="spacingAndGlyphs">erg</tspan><tspan x="163.8" y="0" textLength="34.6" lengthAdjust="spacingAndGlyphs">cm</tspan><tspan x="200.2" y="-16.5" font-size="17.3">-1</tspan><tspan x="214.6" y="0">s</tspan><tspan x="227.8" y="-16.5" font-size="17.3">-1</tspan><tspan x="244.0" y="0">]</tspan></text></g>
</svg>
</body></html>
